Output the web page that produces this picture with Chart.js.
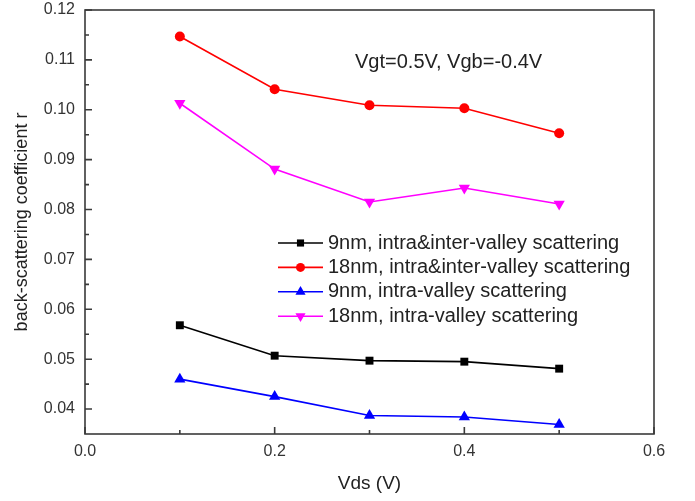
<!DOCTYPE html>
<html>
<head>
<meta charset="utf-8">
<script src="https://cdn.jsdelivr.net/npm/chart.js@4"></script>
<style>
  html, body { margin: 0; padding: 0; background: #fff; }
  #wrap { width: 695px; height: 501px; }
</style>
</head>
<body>
<div id="wrap"><canvas id="c" width="695" height="501"></canvas></div>
<script>
const vds = [0.1, 0.2, 0.3, 0.4, 0.5];
const nm9Both = [0.0568, 0.0507, 0.0497, 0.0495, 0.0481];
const nm18Both = [0.1147, 0.1041, 0.1009, 0.1003, 0.0953];
const nm9Intra = [0.0460, 0.0425, 0.0387, 0.0384, 0.0369];
const nm18Intra = [0.1013, 0.0881, 0.0815, 0.0843, 0.0811];
const xTicks = [0.0, 0.2, 0.4, 0.6];
const xMinor = [0.1, 0.3, 0.5];
const yTicks = [0.04, 0.05, 0.06, 0.07, 0.08, 0.09, 0.10, 0.11, 0.12];
const yMinor = [0.045, 0.055, 0.065, 0.075, 0.085, 0.095, 0.105, 0.115];
const labels = [
  '9nm, intra&inter-valley scattering',
  '18nm, intra&inter-valley scattering',
  '9nm, intra-valley scattering',
  '18nm, intra-valley scattering'
];
const annotation = 'Vgt=0.5V, Vgb=-0.4V';

const FONT = "'Liberation Sans', Arial, sans-serif";
const AXIS = '#3a3a3a';

function pts(arr) { return vds.map((x, i) => ({ x: x, y: arr[i] })); }

const styles = [
  { color: '#000000', pointStyle: 'rect', radius: 5.6, rotation: 0 },
  { color: '#ff0000', pointStyle: 'circle', radius: 5, rotation: 0 },
  { color: '#0000ff', pointStyle: 'triangle', radius: 6.5, rotation: 0 },
  { color: '#ff00ff', pointStyle: 'triangle', radius: 6.5, rotation: 180 }
];
const series = [nm9Both, nm18Both, nm9Intra, nm18Intra];

const datasets = series.map((s, i) => ({
  label: labels[i],
  data: pts(s),
  borderColor: styles[i].color,
  backgroundColor: styles[i].color,
  borderWidth: 1.6,
  pointStyle: styles[i].pointStyle,
  pointRadius: styles[i].radius,
  pointRotation: styles[i].rotation,
  pointBorderWidth: 0,
  pointHoverRadius: styles[i].radius,
  tension: 0
}));

const framePlugin = {
  id: 'frame',
  afterDraw(chart) {
    const ctx = chart.ctx;
    const a = chart.chartArea;
    const xs = chart.scales.x, ys = chart.scales.y;
    ctx.save();
    ctx.strokeStyle = AXIS;
    ctx.lineWidth = 1.6;
    ctx.strokeRect(a.left, a.top, a.right - a.left, a.bottom - a.top);
    ctx.beginPath();
    xTicks.forEach(v => { const p = xs.getPixelForValue(v); ctx.moveTo(p, a.bottom); ctx.lineTo(p, a.bottom - 7); });
    xMinor.forEach(v => { const p = xs.getPixelForValue(v); ctx.moveTo(p, a.bottom); ctx.lineTo(p, a.bottom - 4); });
    yTicks.forEach(v => { const p = ys.getPixelForValue(v); ctx.moveTo(a.left, p); ctx.lineTo(a.left + 7, p); });
    yMinor.forEach(v => { const p = ys.getPixelForValue(v); ctx.moveTo(a.left, p); ctx.lineTo(a.left + 4, p); });
    ctx.stroke();

    // annotation text
    ctx.fillStyle = '#222';
    ctx.font = '20px ' + FONT;
    ctx.textBaseline = 'middle';
    ctx.textAlign = 'left';
    ctx.fillText(annotation, 355, 62);

    // legend
    const lx0 = 278, lx1 = 323, tx = 328, y0 = 243, dy = 24.4;
    ctx.font = '20px ' + FONT;
    chart.data.datasets.forEach((d, i) => {
      const y = y0 + i * dy;
      ctx.strokeStyle = d.borderColor;
      ctx.lineWidth = 1.6;
      ctx.beginPath(); ctx.moveTo(lx0, y); ctx.lineTo(lx1, y); ctx.stroke();
      ctx.fillStyle = d.backgroundColor;
      Chart.helpers.drawPoint(ctx, {
        pointStyle: d.pointStyle, rotation: d.pointRotation,
        radius: d.pointRadius * 0.9, borderWidth: 0
      }, (lx0 + lx1) / 2, y);
      ctx.fillStyle = '#222';
      ctx.fillText(d.label, tx, y);
    });
    ctx.restore();
  }
};

new Chart(document.getElementById('c'), {
  type: 'line',
  data: { datasets: datasets },
  options: {
    responsive: false,
    animation: false,
    events: [],
    layout: { padding: { left: 0, right: 41, top: 10, bottom: 0 } },
    plugins: { legend: { display: false }, tooltip: { enabled: false } },
    scales: {
      x: {
        type: 'linear', min: 0, max: 0.6,
        afterBuildTicks(s) { s.ticks = xTicks.map(v => ({ value: v })); },
        afterFit(s) { s.height = 67; s.paddingLeft = 0; s.paddingRight = 0; },
        grid: { display: false, drawTicks: false },
        border: { display: false },
        ticks: {
          padding: 8, color: '#333',
          font: { family: FONT, size: 16 },
          callback: v => v.toFixed(1)
        },
        title: {
          display: true, text: 'Vds (V)', color: '#222',
          font: { family: FONT, size: 19 },
          padding: { top: 0, bottom: 6 }
        }
      },
      y: {
        type: 'linear', min: 0.035, max: 0.12,
        afterBuildTicks(s) { s.ticks = yTicks.map(v => ({ value: v })); },
        afterFit(s) { s.width = 85; s.paddingTop = 0; s.paddingBottom = 0; },
        grid: { display: false, drawTicks: false },
        border: { display: false },
        ticks: {
          padding: 10, color: '#333',
          font: { family: FONT, size: 16 },
          callback: v => v.toFixed(2)
        },
        title: {
          display: true, text: 'back-scattering coefficient r', color: '#222',
          font: { family: FONT, size: 18 },
          padding: { top: 11, bottom: 0 }
        }
      }
    }
  },
  plugins: [framePlugin]
});
</script>
</body>
</html>
